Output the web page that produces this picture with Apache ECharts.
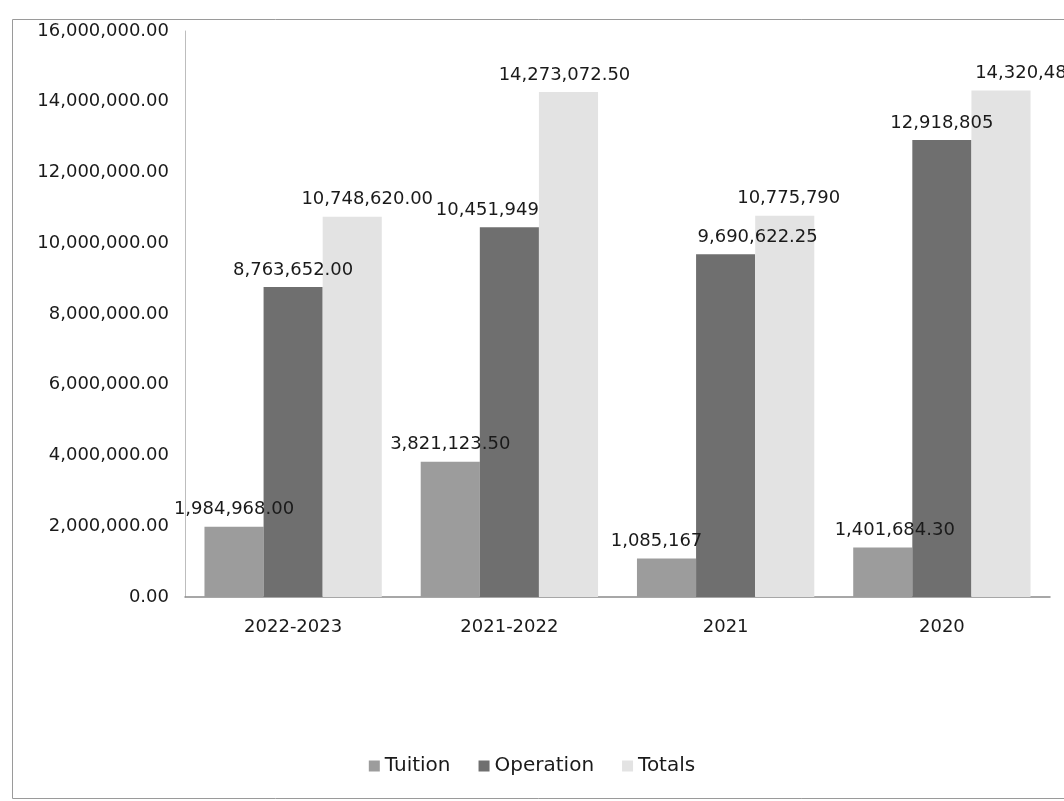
<!DOCTYPE html>
<html>
<head>
<meta charset="utf-8">
<script src="https://cdn.jsdelivr.net/npm/echarts@6/dist/echarts.min.js"></script>
<style>
  html, body { margin: 0; padding: 0; background: #ffffff; }
  #chart { width: 1064px; height: 801px; }
</style>
</head>
<body>
<div id="chart"></div>
<script>
// Categories and series values
const categories = ['2022-2023', '2021-2022', '2021', '2020'];
const tuition = [1984968.00, 3821123.50, 1085167, 1401684.30];
const operation = [8763652.00, 10451949, 9690622.25, 12918805];
const totals = [10748620.00, 14273072.50, 10775790, 14320489.30];

// Decimal places shown in each value label
const tuitionDecimals = [2, 2, 0, 2];
const operationDecimals = [2, 0, 2, 0];
const totalsDecimals = [2, 2, 0, 2];

// Y axis range
const yMin = 0;
const yMax = 16000000;
const yStep = 2000000;

// Horizontal nudges (px) for the value labels
const tuitionShift = [0, 0, -10, 12];
const operationShift = [0, -22, 32, 0];
const totalsShift = [15, -4, 4, 40];

const FONT = '"DejaVu Sans", "Open Sans", sans-serif';

function fmt(v, d) {
  return v.toLocaleString('en-US', { minimumFractionDigits: d, maximumFractionDigits: d });
}

function makeSeries(name, values, decimals, shifts, color) {
  return {
    name: name,
    type: 'bar',
    barGap: '0%',
    barCategoryGap: '18%',
    itemStyle: { color: color },
    data: values.map((v, i) => ({
      value: v,
      label: {
        show: true,
        position: 'top',
        distance: 8,
        offset: [shifts[i], 0],
        formatter: () => fmt(v, decimals[i]),
        color: '#1a1a1a',
        fontFamily: FONT,
        fontSize: 18
      }
    }))
  };
}

const chart = echarts.init(document.getElementById('chart'));
chart.setOption({
  backgroundColor: '#ffffff',
  animation: false,
  graphic: [{
    type: 'rect',
    left: 10, top: 17,
    shape: { width: 1070, height: 779 },
    style: { fill: 'none', stroke: '#9a9a9a', lineWidth: 1 },
    silent: true
  }],
  grid: { left: 185, right: 14, top: 31, bottom: 204 },
  legend: {
    bottom: 20,
    left: 'center',
    icon: 'rect',
    itemWidth: 11,
    itemHeight: 11,
    itemGap: 28,
    textStyle: { fontFamily: FONT, fontSize: 20, color: '#1a1a1a' },
    data: ['Tuition', 'Operation', 'Totals']
  },
  xAxis: {
    type: 'category',
    data: categories,
    axisLine: { show: true, lineStyle: { color: '#8a8a8a', width: 1.5 } },
    axisTick: { show: false },
    axisLabel: { margin: 21, fontFamily: FONT, fontSize: 18, color: '#1a1a1a' }
  },
  yAxis: {
    type: 'value',
    min: yMin,
    max: yMax,
    interval: yStep,
    splitLine: { show: false },
    axisLine: { show: true, lineStyle: { color: '#bdbdbd' } },
    axisTick: { show: false },
    axisLabel: {
      margin: 16,
      fontFamily: FONT,
      fontSize: 18,
      color: '#1a1a1a',
      formatter: v => fmt(v, 2)
    }
  },
  series: [
    makeSeries('Tuition', tuition, tuitionDecimals, tuitionShift, '#9c9c9c'),
    makeSeries('Operation', operation, operationDecimals, operationShift, '#6f6f6f'),
    makeSeries('Totals', totals, totalsDecimals, totalsShift, '#e3e3e3')
  ]
});
</script>
</body>
</html>
